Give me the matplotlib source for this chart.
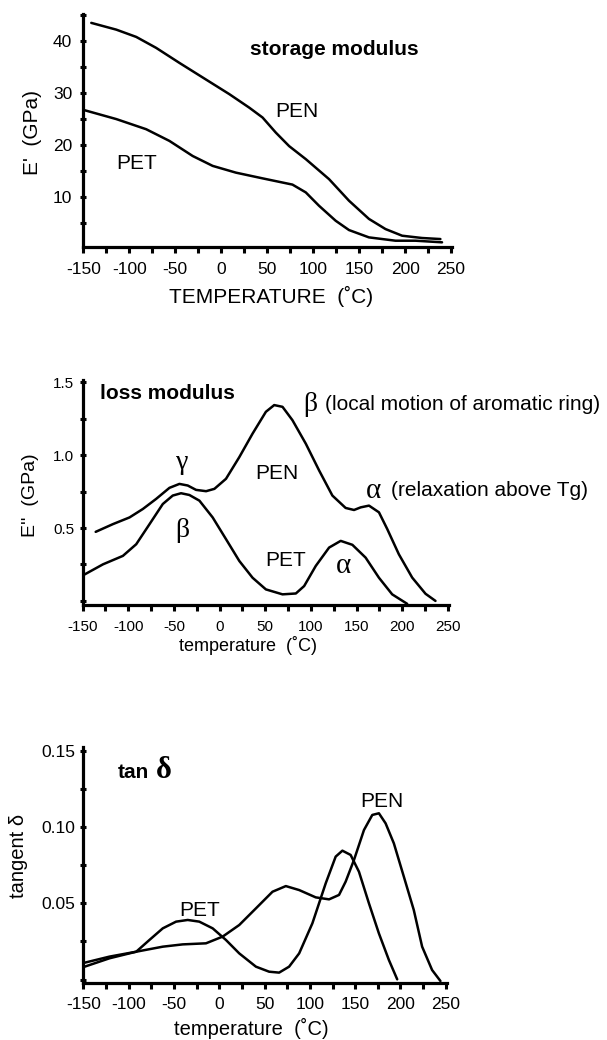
import matplotlib
matplotlib.use("Agg")
import matplotlib.pyplot as plt
from matplotlib.ticker import MultipleLocator

plt.rcParams['font.family'] = ['Liberation Sans', 'DejaVu Sans']
plt.rcParams['axes.unicode_minus'] = False
GREEK = ['Liberation Serif', 'DejaVu Serif']

# ---- storage modulus E' (GPa) ----
pen_e1_t = [-141.3, -114.1, -92.4, -70.8, -45.4, -16.5, 8.8, 30.5, 45, 59.4, 73.9, 92, 117.3,
            139, 160.7, 178.7, 196.8, 218.5, 238.4]
pen_e1 = [43.5, 42.2, 40.8, 38.7, 35.8, 32.6, 29.8, 27.2, 25.3, 22.4, 19.8, 17.3, 13.45,
          9.3, 5.8, 3.85, 2.57, 2.13, 1.93]
pet_e1_t = [-148.5, -114.1, -81.6, -56.3, -31, -9.3, 16, 45, 77.5, 92, 106.4, 124.5, 139,
            160.7, 189.6, 211.3, 240.2]
pet_e1 = [26.7, 25.0, 23.05, 20.8, 17.9, 16.0, 14.7, 13.6, 12.4, 10.9, 8.33, 5.45, 3.66,
          2.25, 1.61, 1.61, 1.3]

# ---- loss modulus E'' (GPa) ----
pen_e2_t = [-135.7, -116.8, -98.6, -84, -69.5, -54.9, -44, -34.9, -25.8, -14.8, -5.7, 7, 21.6,
            36.1, 50.7, 59.8, 68.9, 79.8, 94.4, 109, 123.5, 138, 147.2, 154.5, 163.6, 174.5,
            183.6, 196.3, 210.9, 225.5, 236.4]
pen_e2 = [0.474, 0.527, 0.573, 0.631, 0.700, 0.776, 0.803, 0.792, 0.762, 0.753, 0.769, 0.838,
          0.987, 1.148, 1.298, 1.344, 1.332, 1.240, 1.079, 0.895, 0.723, 0.638, 0.624, 0.642,
          0.654, 0.608, 0.493, 0.320, 0.160, 0.049, 0.0]
pet_e2_t = [-147.7, -127.7, -105.9, -91.3, -76.7, -62.2, -51.3, -42.2, -33.1, -22.1, -7.6, 7,
            21.6, 36.1, 50.7, 68.9, 83.5, 92.6, 105.3, 119.9, 132.6, 145.4, 159.9, 174.5, 189,
            205.4]
pet_e2 = [0.182, 0.251, 0.309, 0.389, 0.527, 0.665, 0.723, 0.739, 0.727, 0.688, 0.573, 0.424,
          0.274, 0.159, 0.079, 0.045, 0.051, 0.102, 0.240, 0.366, 0.412, 0.385, 0.297, 0.159,
          0.045, -0.020]

# ---- tan delta ----
pet_tan_t = [-148.5, -121, -91.6, -77, -62.3, -47.6, -34.8, -22, -7.2, 7.4, 22.1, 40.5, 55.1,
             66.1, 77.1, 88.2, 102.8, 117.5, 128.5, 135.9, 145, 154.2, 165.2, 176.2, 187.2, 196.4]
pet_tan = [0.0085, 0.0140, 0.0183, 0.026, 0.0336, 0.0380, 0.0391, 0.0380, 0.0336, 0.026,
           0.0172, 0.0085, 0.0052, 0.0046, 0.0085, 0.0172, 0.0369, 0.0631, 0.0806, 0.0845,
           0.0817, 0.0707, 0.050, 0.0303, 0.0129, 0.0002]
pen_tan_t = [-148.5, -121, -91.6, -62.3, -40.3, -14.6, 3.8, 22.1, 40.5, 58.8, 73.5, 88.2, 106.5,
             121.2, 132.2, 139.5, 148.7, 159.7, 168.9, 176.2, 183.6, 192.7, 203.7, 214.7, 223.9,
             234.9, 244.1]
pen_tan = [0.0111, 0.0151, 0.0183, 0.0216, 0.0231, 0.0238, 0.0282, 0.0358, 0.0467, 0.0576,
           0.0613, 0.0587, 0.0539, 0.0526, 0.0555, 0.0642, 0.0784, 0.0980, 0.1079, 0.1090,
           0.1024, 0.0893, 0.0675, 0.0456, 0.0216, 0.0063, -0.0009]

LW = 1.8


def style_axes(ax, ylim, ymajor, yminor, tick_fs, ypad):
    ax.set_xlim(-150, 251)
    ax.set_ylim(*ylim)
    for s in ("top", "right"):
        ax.spines[s].set_visible(False)
    for s in ("left", "bottom"):
        ax.spines[s].set_linewidth(2.3)
    ax.xaxis.set_major_locator(MultipleLocator(50))
    ax.xaxis.set_minor_locator(MultipleLocator(25))
    ax.yaxis.set_major_locator(MultipleLocator(ymajor))
    ax.yaxis.set_minor_locator(MultipleLocator(yminor))
    ax.tick_params(axis="x", which="both", direction="out", length=4.5, width=2.2,
                   labelsize=tick_fs, pad=6)
    ax.tick_params(axis="y", which="both", direction="inout", length=4, width=2.2,
                   labelsize=tick_fs, pad=ypad)


def draw(ax, t, v):
    ax.plot(t, v, color="black", lw=LW, solid_joinstyle="round", solid_capstyle="round")


fig = plt.figure(figsize=(6.07, 10.4), dpi=100)

# ---------------- panel 1 ----------------
ax1 = fig.add_axes([0.1372, 0.7625, 0.6074, 0.2240])
draw(ax1, pen_e1_t, pen_e1)
draw(ax1, pet_e1_t, pet_e1)
style_axes(ax1, (0.4, 45.2), 10, 5, 12.5, 6)
ax1.set_yticks([10, 20, 30, 40])
ax1.set_xlabel("TEMPERATURE  (˚C)", fontsize=15)
ax1.set_ylabel("E'  (GPa)", fontsize=15)
ax1.xaxis.set_label_coords(0.51, -0.165)
ax1.yaxis.set_label_coords(-0.113, 0.49)
ax1.text(122.6, 38.3, "storage modulus", fontsize=15, fontweight="bold", ha="center", va="center")
ax1.text(82.8, 26.5, "PEN", fontsize=15, ha="center", va="center")
ax1.text(-92, 16.5, "PET", fontsize=15, ha="center", va="center")

# ---------------- panel 2 ----------------
ax2 = fig.add_axes([0.1361, 0.4180, 0.6033, 0.2166])
draw(ax2, pen_e2_t, pen_e2)
draw(ax2, pet_e2_t, pet_e2)
style_axes(ax2, (-0.03, 1.516), 0.5, 0.25, 11, 4)
ax2.set_yticks([0.5, 1.0, 1.5])
ax2.set_xlabel("temperature  (˚C)", fontsize=13)
ax2.set_ylabel("E''  (GPa)", fontsize=14)
ax2.xaxis.set_label_coords(0.452, -0.136)
ax2.yaxis.set_label_coords(-0.12, 0.49)
ax2.text(-131, 1.424, "loss modulus", fontsize=15, fontweight="bold", ha="left", va="center")
ax2.text(92, 1.35, "β", fontsize=20, family=GREEK, ha="left", va="center")
ax2.text(115.4, 1.35, "(local motion of aromatic ring)", fontsize=15, ha="left", va="center")
ax2.text(160, 0.757, "α", fontsize=21, family=GREEK, ha="left", va="center")
ax2.text(188.2, 0.757, "(relaxation above Tg)", fontsize=15, ha="left", va="center")
ax2.text(-41.2, 0.953, "γ", fontsize=20, family=GREEK, ha="center", va="center")
ax2.text(-41.2, 0.481, "β", fontsize=20, family=GREEK, ha="center", va="center")
ax2.text(62.5, 0.872, "PEN", fontsize=15, ha="center", va="center")
ax2.text(72.2, 0.274, "PET", fontsize=15, ha="center", va="center")
ax2.text(135.7, 0.24, "α", fontsize=21, family=GREEK, ha="center", va="center")

# ---------------- panel 3 ----------------
ax3 = fig.add_axes([0.1372, 0.0551, 0.5987, 0.2269])
draw(ax3, pet_tan_t, pet_tan)
draw(ax3, pen_tan_t, pen_tan)
style_axes(ax3, (-0.002, 0.1526), 0.05, 0.025, 12.5, 4)
ax3.set_yticks([0.05, 0.10, 0.15])
ax3.set_yticklabels(["0.05", "0.10", "0.15"])
ax3.set_xlabel("temperature  (˚C)", fontsize=14.5)
ax3.set_ylabel("tangent δ", fontsize=14.5)
ax3.xaxis.set_label_coords(0.463, -0.15)
ax3.yaxis.set_label_coords(-0.151, 0.538)
ax3.text(-111.5, 0.136, "tan", fontsize=15, fontweight="bold", ha="left", va="center")
ax3.text(-70, 0.1372, "δ", fontsize=22, fontweight="bold", family=GREEK, ha="left", va="center")
ax3.text(-22, 0.0456, "PET", fontsize=15, ha="center", va="center")
ax3.text(179.9, 0.1166, "PEN", fontsize=15, ha="center", va="center")

fig.savefig("out.png", dpi=100)
